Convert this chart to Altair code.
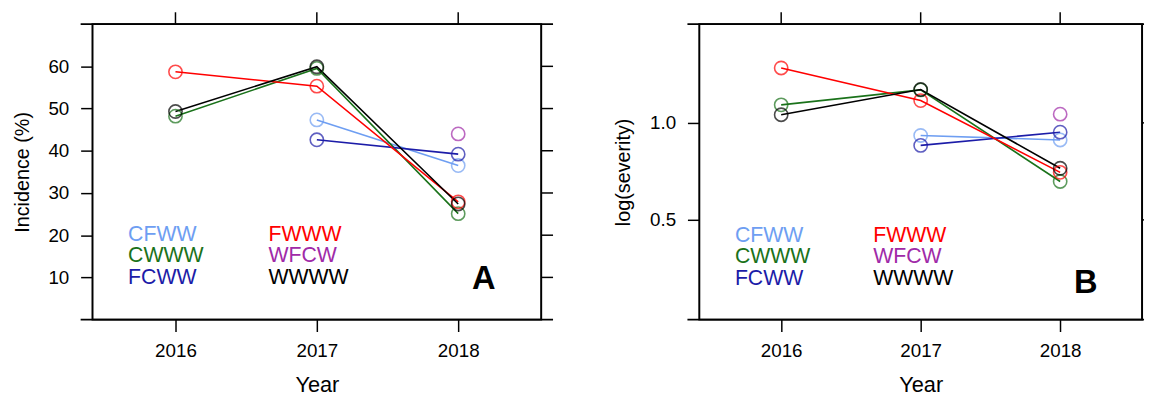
import altair as alt
import pandas as pd

years = [2016, 2017, 2018]
groups = ["CFWW", "CWWW", "FCWW", "FWWW", "WFCW", "WWWW"]
colors = ["#6E9EF2", "#1A721A", "#1C1CA8", "#FF0000", "#A02AA8", "#000000"]

# Panel A: Incidence (%)
inc_CFWW = [None, 47.3, 36.5]
inc_CWWW = [48.2, 59.5, 25.1]
inc_FCWW = [None, 42.6, 39.2]
inc_FWWW = [58.7, 55.3, 27.9]
inc_WFCW = [None, None, 44.0]
inc_WWWW = [49.3, 59.9, 27.4]

# Panel B: log(severity)
sev_CFWW = [None, 0.935, 0.912]
sev_CWWW = [1.093, 1.170, 0.698]
sev_FCWW = [None, 0.884, 0.952]
sev_FWWW = [1.283, 1.115, 0.745]
sev_WFCW = [None, None, 1.045]
sev_WWWW = [1.042, 1.172, 0.766]

inc_ticks = [10, 20, 30, 40, 50, 60]
sev_ticks = [0.5, 1.0]

FONT = "Liberation Sans"


def long_df(series):
    rows = []
    for g, vals in zip(groups, series):
        for yr, v in zip(years, vals):
            if v is not None:
                rows.append({"group": g, "year": yr, "value": v})
    return pd.DataFrame(rows)


inc_df = long_df([inc_CFWW, inc_CWWW, inc_FCWW, inc_FWWW, inc_WFCW, inc_WWWW])
sev_df = long_df([sev_CFWW, sev_CWWW, sev_FCWW, sev_FWWW, sev_WFCW, sev_WWWW])

XDOM = [2015.413, 2018.587]


def panel(df, ydom, yticks, yfmt, ytitle, W, H, leg_x0, leg_dx, leg_y0, letter, let_x, let_y, rext):
    xs = alt.Scale(domain=XDOM, nice=False, zero=False)
    ys = alt.Scale(domain=ydom, nice=False, zero=False)
    color = alt.Color("group:N", scale=alt.Scale(domain=groups, range=colors), legend=None)
    xaxis = alt.Axis(values=years, format="d", domain=False, grid=False, tickSize=12, tickWidth=1.5,
                     tickColor="black", labelFontSize=19, labelPadding=10, labelFont=FONT,
                     title="Year", titleFontSize=22, titleFontWeight="normal", titleFont=FONT,
                     titlePadding=15, labelColor="black", titleColor="black", orient="bottom")
    yaxis = alt.Axis(values=yticks, format=yfmt, domain=False, grid=False, tickSize=12, tickWidth=1.5,
                     tickColor="black", labelFontSize=19, labelPadding=12, labelFont=FONT,
                     title=ytitle, titleFontSize=20, titleFontWeight="normal", titleFont=FONT,
                     titlePadding=16, labelColor="black", titleColor="black", orient="left")
    X = alt.X("year:Q", scale=xs, axis=xaxis, title="Year")
    Y = alt.Y("value:Q", scale=ys, axis=yaxis, title=ytitle)
    base = alt.Chart(df)
    lines = base.mark_line(strokeWidth=1.6).encode(
        x=X, y=Y, color=color, detail="group:N",
    )
    points = base.mark_point(shape="circle", filled=False, size=180, strokeWidth=1.6).encode(
        x=X, y=Y, color=color,
    )
    top_ticks = alt.Chart(pd.DataFrame({"year": years})).mark_rule(color="black", strokeWidth=1.5).encode(
        x=X, y=alt.value(-12), y2=alt.value(0)
    )
    right_ticks = alt.Chart(pd.DataFrame({"value": yticks})).mark_rule(color="black", strokeWidth=1.5).encode(
        y=Y, x=alt.value(W), x2=alt.value(W + rext)
    )
    dummy = pd.DataFrame({"a": [0]})
    top_line = alt.Chart(dummy).mark_rule(color="black", strokeWidth=2).encode(
        x=alt.value(-12), x2=alt.value(W + rext), y=alt.value(0)
    )
    bot_line = alt.Chart(dummy).mark_rule(color="black", strokeWidth=2).encode(
        x=alt.value(-12), x2=alt.value(W + rext), y=alt.value(H)
    )
    texts = []
    for i, (g, c) in enumerate(zip(groups, colors)):
        col, row = divmod(i, 3)
        texts.append(
            alt.Chart(dummy).mark_text(text=g, color=c, align="left", baseline="alphabetic",
                                       fontSize=21.5, font=FONT).encode(
                x=alt.value(leg_x0 + col * leg_dx), y=alt.value(leg_y0 + row * 22)
            )
        )
    letter_mark = alt.Chart(dummy).mark_text(text=letter, align="center", baseline="middle",
                                             fontSize=33, fontWeight="bold", font=FONT,
                                             color="black").encode(
        x=alt.value(let_x), y=alt.value(let_y)
    )
    return alt.layer(lines, points, top_ticks, right_ticks, top_line, bot_line, *texts, letter_mark).properties(
        width=W, height=H
    )


A = panel(inc_df, [0, 70], inc_ticks, "d", "Incidence (%)", 454, 299, 36, 142, 219, "A", 396, 258, 12)
B = panel(sev_df, [-0.014, 1.509], sev_ticks, ".1f", "log(severity)", 448, 299, 36, 140, 220, "B", 391, 262, 2)

chart = alt.hconcat(A, B, spacing=58).properties(
    padding={"left": 2.5, "top": 0, "right": 0, "bottom": 0}
).configure_view(stroke="black", strokeWidth=2)

chart.save("out.html", embed_options={"renderer": "svg", "actions": False})
